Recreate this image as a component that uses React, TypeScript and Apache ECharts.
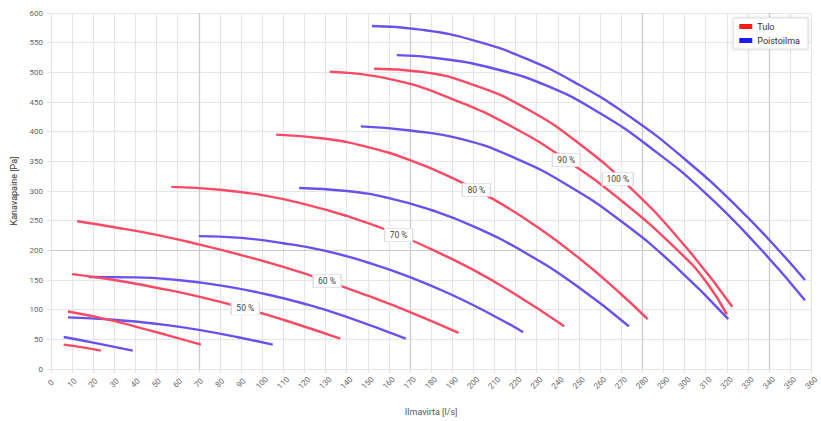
import React, { useEffect, useRef } from "react";
import * as echarts from "echarts";

// Tulo (supply) fan curves: [flow l/s, pressure Pa]
const tulo30 = [[6, 41], [15, 36.5], [23.6, 31]];
const tulo40 = [[8, 97], [25, 85], [40, 71.5], [55, 57], [71, 41]];
const tulo50 = [[10, 160], [30, 150], [50, 137], [70, 122], [92, 102], [110, 83], [137, 51]];
const tulo60 = [[12.4, 249], [30, 239], [50, 226], [70, 210], [90, 192], [110, 172], [130, 149], [150, 123.5], [170, 96], [193, 61]];
const tulo70 = [[57, 307], [80, 302], [100, 293], [120, 278], [140, 258], [160, 233], [180, 202], [200, 167], [220, 125.5], [243, 72]];
const tulo80 = [[106.6, 395], [130, 388], [150, 374], [170, 352], [190, 322], [210, 285], [230, 240], [250, 187], [270, 126], [282.5, 84]];
const tulo90 = [[132, 501], [160, 489], [190, 455], [220, 405], [244, 352], [270, 284], [297, 199], [310, 148], [320, 92]];
const tulo100 = [[153, 506], [175, 501], [200, 479], [225, 439], [250, 380], [275, 303], [300, 208], [322.6, 105]];

// Poistoilma (exhaust) fan curves
const poisto30 = [[6, 54], [20, 44.5], [38.7, 31]];
const poisto40 = [[8, 87], [25, 84], [40, 80], [55, 74], [70, 66], [88, 54], [105, 41]];
const poisto50 = [[18, 155], [40, 154.5], [60, 150], [80, 141], [100, 127.5], [120, 110], [140, 88], [168, 51]];
const poisto60 = [[70, 224], [90, 221], [110, 212], [130, 199], [150, 179.5], [170, 155], [190, 124.7], [210, 89], [223.6, 62]];
const poisto70 = [[117.5, 305], [140, 300], [160, 288], [180, 268], [200, 240.5], [224.5, 196], [250, 137.5], [273.6, 72]];
const poisto80 = [[146.7, 409], [170, 402], [195, 387], [220, 355], [245, 309], [270, 249], [295, 175], [320.7, 84]];
const poisto90 = [[163.7, 529], [185, 523], [210, 506], [235, 477], [260, 431], [285, 370], [310, 296], [335, 206], [357, 116]];
const poisto100 = [[152, 578], [175, 572], [200, 554], [225, 523], [250, 479], [275, 423], [300, 354], [325, 273], [345, 198.5], [357, 150]];

// Percentage labels on the Tulo curves
const labelTexts = ["50 %", "60 %", "70 %", "80 %", "90 %", "100 %"];
const labelFlow = [92, 130.7, 164.6, 201.4, 244, 268.4];
const labelPressure = [102, 148, 226, 302, 352, 320];

const darkGridX = [70, 170, 280, 340];
const darkGridY = [200];

const tuloCurves = [tulo30, tulo40, tulo50, tulo60, tulo70, tulo80, tulo90, tulo100];
const poistoCurves = [poisto30, poisto40, poisto50, poisto60, poisto70, poisto80, poisto90, poisto100];

const RED = "#fb4a64";
const BLUE = "#6752ef";
const FONT = "Roboto, 'Liberation Sans', sans-serif";

export default function App() {
  const ref = useRef<HTMLDivElement>(null);
  useEffect(() => {
    if (!ref.current) return;
    const chart = echarts.init(ref.current, undefined, { renderer: "svg" });
    const series: any[] = [];
    poistoCurves.forEach((d, i) => {
      const s: any = {
        name: "Poistoilma",
        type: "line",
        data: d,
        smooth: true,
        showSymbol: false,
        symbol: "none",
        lineStyle: { color: BLUE, width: 2.4 },
        itemStyle: { color: BLUE },
        z: 3,
      };
      if (i === 0) {
        s.markLine = {
          silent: true,
          symbol: "none",
          label: { show: false },
          lineStyle: { color: "#cbcbcb", width: 1.2, type: "solid" },
          data: [
            ...darkGridX.map((x) => ({ xAxis: x })),
            ...darkGridY.map((y) => ({ yAxis: y })),
          ],
          z: 1,
        };
      }
      series.push(s);
    });
    tuloCurves.forEach((d, i) => {
      const s: any = {
        name: "Tulo",
        type: "line",
        data: d,
        smooth: true,
        showSymbol: false,
        symbol: "none",
        lineStyle: { color: RED, width: 2.4 },
        itemStyle: { color: RED },
        z: 4,
      };
      const li = i - 2;
      if (li >= 0 && li < labelTexts.length) {
        s.markPoint = {
          symbol: "rect",
          symbolSize: [li === 5 ? 31 : 28, 13],
          itemStyle: { color: "#ffffff", borderColor: "#dddddd", borderWidth: 1 },
          label: {
            show: true,
            position: "inside",
            formatter: labelTexts[li],
            color: "#444",
            fontSize: 8.5,
            fontFamily: FONT,
          },
          data: [{ coord: [labelFlow[li], labelPressure[li]] }],
          z: 10,
        };
      }
      series.push(s);
    });

    chart.setOption({
      animation: false,
      backgroundColor: "#ffffff",
      textStyle: { fontFamily: FONT },
      grid: { left: 51, right: 8, top: 13, bottom: 44, containLabel: false },
      legend: {
        orient: "vertical",
        right: 13,
        top: 18,
        padding: [4, 8, 4, 6],
        backgroundColor: "#ffffff",
        borderColor: "#dddddd",
        borderWidth: 1,
        shadowColor: "rgba(0,0,0,0.15)",
        shadowBlur: 3,
        itemWidth: 13,
        itemHeight: 5,
        itemGap: 5,
        icon: "rect",
        textStyle: { fontSize: 9, color: "#333", fontFamily: FONT },
        data: [
          { name: "Tulo", itemStyle: { color: "#ff1a1a" } },
          { name: "Poistoilma", itemStyle: { color: "#1a1aff" } },
        ],
      },
      xAxis: {
        type: "value",
        min: 0,
        max: 360,
        interval: 10,
        name: "Ilmavirta [l/s]",
        nameLocation: "middle",
        nameGap: 38,
        nameTextStyle: { fontSize: 9, color: "#555" },
        axisLine: { show: false },
        axisTick: { show: true, length: 4, lineStyle: { color: "#e2e2e2", width: 1.2 } },
        axisLabel: {
          rotate: 45,
          fontSize: 8,
          color: "#666",
          margin: 14,
          align: "center",
          verticalAlign: "middle",
        },
        splitLine: { show: true, lineStyle: { color: "#e6e6e6", width: 1.2 } },
      },
      yAxis: {
        type: "value",
        min: 0,
        max: 600,
        interval: 50,
        name: "Kanavapaine [Pa]",
        nameLocation: "middle",
        nameRotate: 90,
        nameGap: 33,
        nameTextStyle: { fontSize: 9, color: "#333" },
        axisLine: { show: false },
        axisTick: { show: true, length: 4, lineStyle: { color: "#e2e2e2", width: 1.2 } },
        axisLabel: { fontSize: 8, color: "#666", margin: 8 },
        splitLine: { show: true, lineStyle: { color: "#e6e6e6", width: 1.2 } },
      },
      series,
    });
    return () => chart.dispose();
  }, []);
  return (
    <div
      ref={ref}
      style={{ position: "fixed", left: 0, top: 0, width: 821, height: 421 }}
    />
  );
}
